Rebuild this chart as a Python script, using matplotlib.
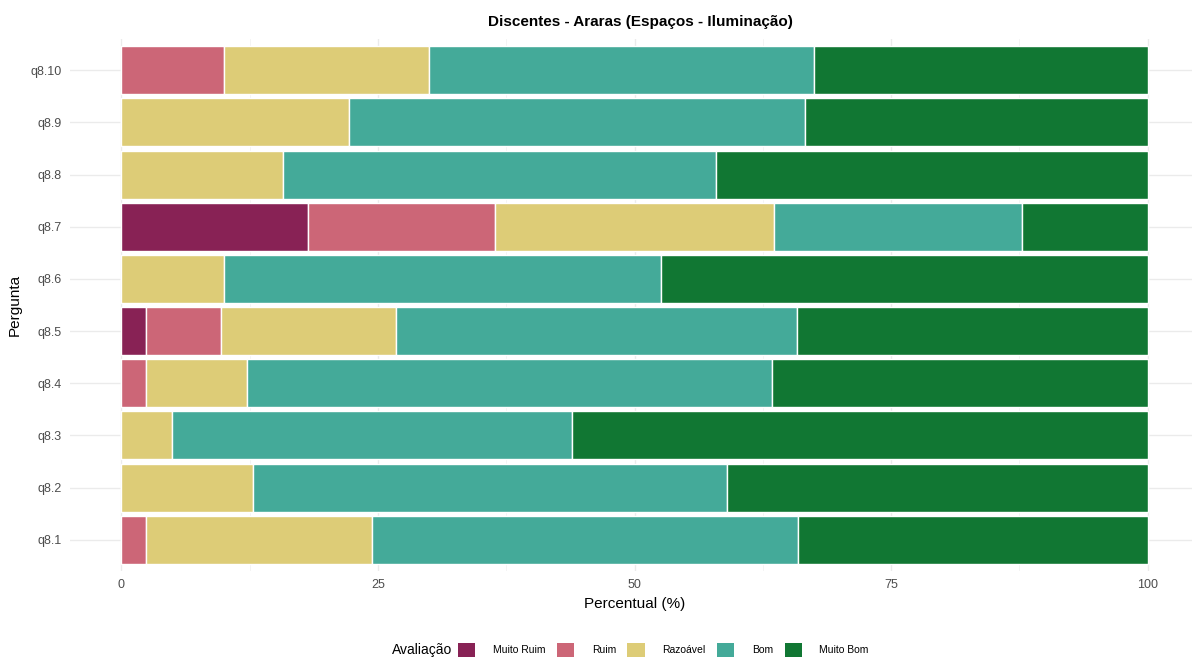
import numpy as np
import matplotlib.pyplot as plt
from matplotlib.patches import Patch

plt.rcParams['font.family'] = ['Liberation Sans', 'DejaVu Sans']

# perguntas (de baixo para cima)
perguntas = ['q8.1', 'q8.2', 'q8.3', 'q8.4', 'q8.5', 'q8.6', 'q8.7', 'q8.8', 'q8.9', 'q8.10']
categorias = ['Muito Ruim', 'Ruim', 'Razoável', 'Bom', 'Muito Bom']
cores = ['#882255', '#CC6677', '#DDCC77', '#44AA99', '#117733']

muito_ruim = [0.0, 0.0, 0.0, 0.0, 2.4, 0.0, 18.2, 0.0, 0.0, 0.0]
ruim       = [2.4, 0.0, 0.0, 2.4, 7.3, 0.0, 18.2, 0.0, 0.0, 10.0]
razoavel   = [22.0, 12.8, 4.9, 9.8, 17.1, 10.0, 27.2, 15.8, 22.2, 20.0]
bom        = [41.5, 46.2, 39.0, 51.2, 39.0, 42.6, 24.2, 42.1, 44.4, 37.5]
muito_bom  = [34.1, 41.0, 56.1, 36.6, 34.2, 47.4, 12.2, 42.1, 33.4, 32.5]

series = [muito_ruim, ruim, razoavel, bom, muito_bom]

fig = plt.figure(figsize=(11.92, 6.59), dpi=100)
# painel de -5 a 105 (0 em x=121px, 100 em x=1147px)
ax = fig.add_axes([70/1192, 1-571/659, 1129/1192, (571-39)/659])

y = np.arange(len(perguntas))
esq = np.zeros(len(perguntas))
for vals, cor in zip(series, cores):
    vals = np.array(vals)
    ax.barh(y, vals, left=esq, height=0.92, color=cor, edgecolor='white', linewidth=1.0, zorder=3)
    esq += vals

ax.set_xlim(-5, 105)
ax.set_ylim(-0.6, len(perguntas) - 0.4)
ax.set_yticks(y)
ax.set_yticklabels(perguntas)
ax.set_xticks([0, 25, 50, 75, 100])
ax.set_xticks([12.5, 37.5, 62.5, 87.5], minor=True)
ax.tick_params(axis='both', length=0, labelsize=9, colors='#4D4D4D', pad=6)
ax.tick_params(axis='both', which='minor', length=0)
ax.grid(True, which='major', color='#EBEBEB', linewidth=1.0, zorder=0)
ax.grid(True, which='minor', axis='x', color='#F3F3F3', linewidth=0.6, zorder=0)
for s in ax.spines.values():
    s.set_visible(False)

ax.set_xlabel('Percentual (%)', fontsize=11, labelpad=4)
ax.set_ylabel('Pergunta', fontsize=11, labelpad=6)
fig.text(640/1192, 1-22/659, 'Discentes - Araras (Espaços - Iluminação)', ha='center', va='center',
         fontsize=11, fontweight='bold')

# legenda embaixo
fig.text(392/1192, 1-650/659, 'Avaliação', ha='left', va='center', fontsize=10)
handles = [Patch(facecolor=c, edgecolor='none') for c in cores]
fig.legend(handles, categorias, loc='center left', bbox_to_anchor=(458/1192, 1-650/659),
           ncol=5, frameon=False, fontsize=7.5, handlelength=1.65, handleheight=1.65,
           handletextpad=1.7, columnspacing=1.1, borderaxespad=0, borderpad=0)

fig.savefig('out.png', dpi=100, facecolor='white')
